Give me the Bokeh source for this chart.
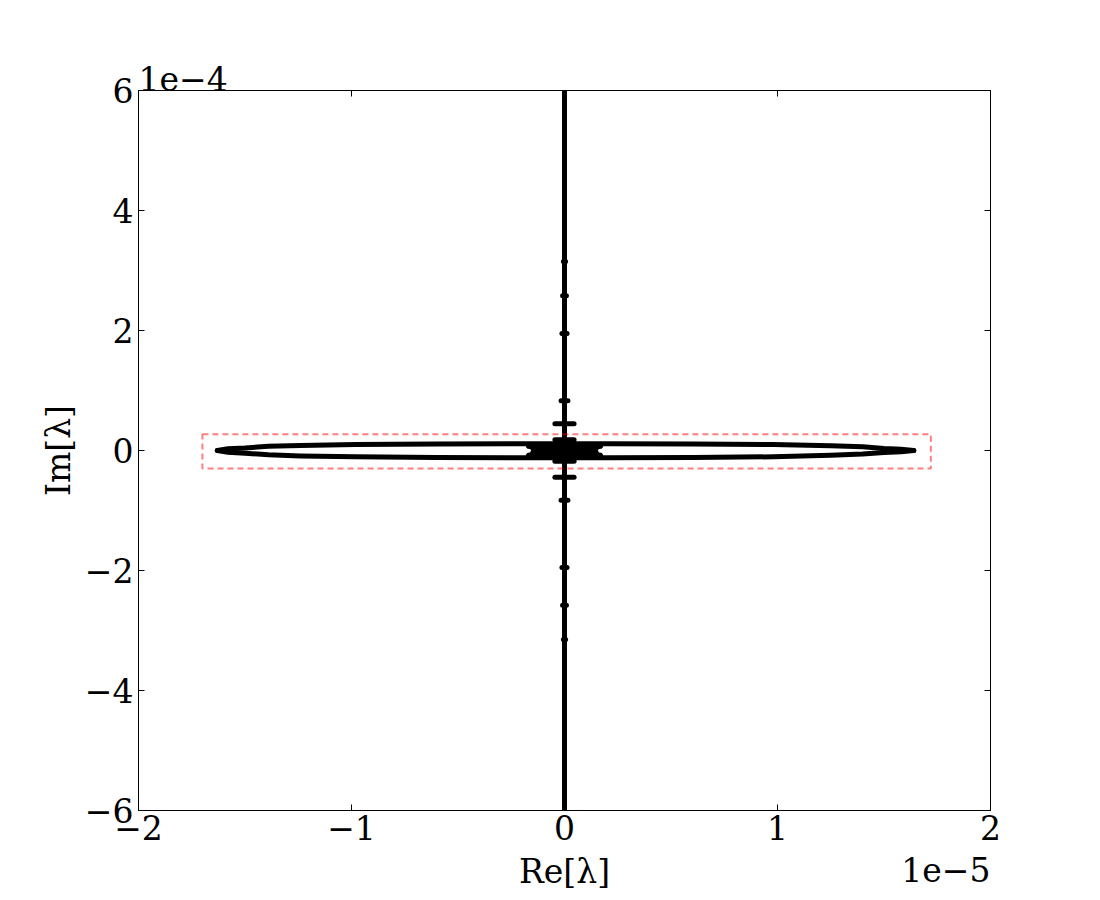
from bokeh.plotting import figure
from bokeh.models import (LinearAxis, FixedTicker, CustomJSTickFormatter, Label, Title,
                          Range1d)
from bokeh.embed import file_html
from bokeh.resources import INLINE

# ---------------- data (eigenvalue spectrum) ----------------
x_ticks = [-2e-5, -1e-5, 0.0, 1e-5, 2e-5]
y_ticks = [-6e-4, -4e-4, -2e-4, 0.0, 2e-4, 4e-4, 6e-4]

# continuum along the imaginary axis
axis_re = [0.0, 0.0]
axis_im = [-6.5e-4, 6.5e-4]

# lens-shaped branch of eigenvalues (upper and lower halves)
upper_re = [-1.63e-5, -1.58e-5, -1.50e-5, -1.39e-5, -1.24e-5, -0.98e-5, -0.60e-5, -0.20e-5,
            0.20e-5, 0.60e-5, 0.98e-5, 1.25e-5, 1.40e-5, 1.50e-5, 1.58e-5, 1.64e-5]
upper_im = [0.0, 0.28e-5, 0.42e-5, 0.70e-5, 0.85e-5, 1.00e-5, 1.08e-5, 1.12e-5,
            1.12e-5, 1.08e-5, 1.00e-5, 0.78e-5, 0.62e-5, 0.33e-5, 0.20e-5, 0.0]
lower_re = [-1.63e-5, -1.58e-5, -1.50e-5, -1.39e-5, -1.24e-5, -0.98e-5, -0.60e-5, -0.20e-5,
            0.20e-5, 0.60e-5, 0.98e-5, 1.25e-5, 1.40e-5, 1.50e-5, 1.58e-5, 1.64e-5]
lower_im = [0.0, -0.30e-5, -0.45e-5, -0.72e-5, -0.90e-5, -1.05e-5, -1.15e-5, -1.20e-5,
            -1.20e-5, -1.15e-5, -1.05e-5, -0.80e-5, -0.60e-5, -0.35e-5, -0.20e-5, 0.0]

# dense cluster near the origin (rows of eigenvalues)
cluster_im = [0.85e-5, 0.45e-5, 0.0, -0.45e-5, -0.90e-5]
cluster_lo = [-1.65e-6, -1.45e-6, -1.30e-6, -1.45e-6, -1.65e-6]
cluster_hi = [1.65e-6, 1.45e-6, 1.30e-6, 1.45e-6, 1.65e-6]

# small groups of eigenvalues on the imaginary axis
group_im = [3.15e-4, 2.58e-4, 1.95e-4, 1.35e-4, 0.83e-4, 0.445e-4, 0.18e-4,
            -0.18e-4, -0.445e-4, -0.83e-4, -1.35e-4, -1.95e-4, -2.58e-4, -3.15e-4]
group_lo = [-0.5e-7, -0.9e-7, -1.2e-7, 0.0, -1.6e-7, -4.5e-7, -4.5e-7,
            -4.5e-7, -4.5e-7, -1.6e-7, 0.0, -1.2e-7, -0.9e-7, -0.5e-7]
group_hi = [0.5e-7, 0.9e-7, 1.2e-7, 0.0, 1.6e-7, 4.5e-7, 4.5e-7,
            4.5e-7, 4.5e-7, 1.6e-7, 0.0, 1.2e-7, 0.9e-7, 0.5e-7]

# highlighted region (dashed box)
box_left, box_right = [-1.70e-5], [1.72e-5]
box_bottom, box_top = [-3.0e-5], [2.7e-5]

FONT = "DejaVu Serif"
FS = "33px"

p = figure(frame_width=852, frame_height=720,
           x_range=Range1d(-2e-5, 2e-5), y_range=Range1d(-6e-4, 6e-4),
           output_backend="svg", toolbar_location=None,
           min_border_left=138, min_border_right=94,
           min_border_top=90, min_border_bottom=74,
           background_fill_color="white", border_fill_color="white")
p.grid.visible = False
p.outline_line_color = "black"
p.outline_line_width = 1

fmt_x = CustomJSTickFormatter(code="""
const v = Math.round(tick / 1e-5);
return v < 0 ? '\u2212' + (-v) : String(v);
""")
fmt_y = CustomJSTickFormatter(code="""
const v = Math.round(tick / 1e-4);
return v < 0 ? '\u2212' + (-v) : String(v);
""")

def style_axis(ax, ticks, fmt, show_labels):
    ax.ticker = FixedTicker(ticks=ticks)
    ax.formatter = fmt
    ax.major_tick_in = 6
    ax.major_tick_out = 0
    ax.minor_tick_line_color = None
    ax.axis_line_color = "black"
    ax.major_tick_line_color = "black"
    ax.major_label_text_font = FONT
    ax.major_label_text_font_size = FS
    ax.major_label_text_color = "black" if show_labels else None
    ax.axis_label_text_font = FONT
    ax.axis_label_text_font_size = FS
    ax.axis_label_text_font_style = "normal"
    ax.axis_label_text_color = "black"

xb = p.xaxis[0]
yl = p.yaxis[0]
style_axis(xb, x_ticks, fmt_x, True)
style_axis(yl, y_ticks, fmt_y, True)
xb.axis_label = "Re[λ]"
yl.axis_label = "Im[λ]"
xb.major_label_standoff = 4
yl.major_label_standoff = 5
xb.axis_label_standoff = 9
yl.axis_label_standoff = 4

xa = LinearAxis()
style_axis(xa, x_ticks, fmt_x, False)
xa.major_label_text_font_size = "0px"
xa.major_label_standoff = 7
p.add_layout(xa, "above")
yr = LinearAxis()
style_axis(yr, y_ticks, fmt_y, False)
yr.major_label_text_font_size = "0px"
p.add_layout(yr, "right")

# eigenvalues
p.line(axis_re, axis_im, line_color="black", line_width=5)
p.line(upper_re, upper_im, line_color="black", line_width=5, line_join="round", line_cap="round")
p.line(lower_re, lower_im, line_color="black", line_width=5, line_join="round", line_cap="round")
p.segment(x0=cluster_lo, y0=cluster_im, x1=cluster_hi, y1=cluster_im,
          line_color="black", line_width=7, line_cap="round")
p.segment(x0=group_lo, y0=group_im, x1=group_hi, y1=group_im,
          line_color="black", line_width=5, line_cap="round")

p.quad(left=box_left, right=box_right, bottom=box_bottom, top=box_top,
       fill_color=None, line_color="red", line_alpha=0.5, line_width=2, line_dash="6 4")

# offset (scale) texts like matplotlib
p.add_layout(Title(text="1e\u22124", align="left", standoff=0,
                   text_font=FONT, text_font_size=FS, text_font_style="normal",
                   text_color="black"), "above")
p.add_layout(Label(x=2e-5, y=-6e-4, text="1e\u22125", y_offset=-59,
                   text_align="right", text_baseline="alphabetic",
                   text_font=FONT, text_font_size=FS, text_color="black"), "right")

open("out.html", "w").write(file_html(p, INLINE))
